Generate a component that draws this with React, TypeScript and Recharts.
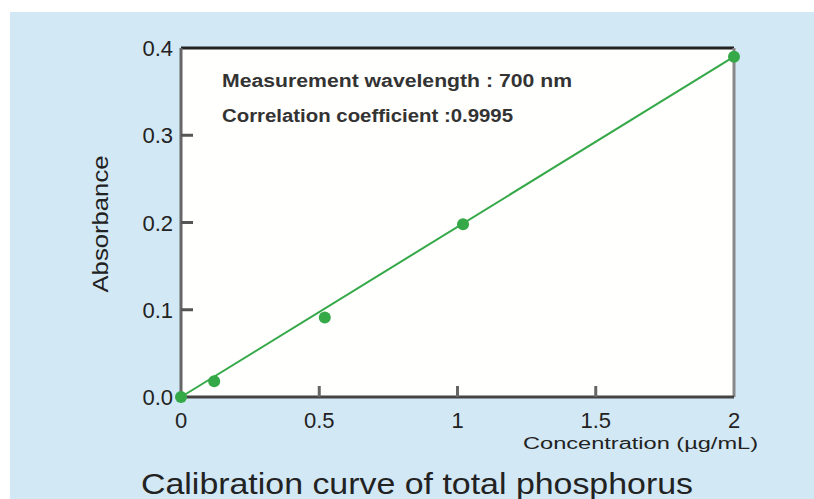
import React from 'react'
import {
  ComposedChart,
  Scatter,
  Line,
  XAxis,
  YAxis,
  CartesianGrid,
  ReferenceLine,
  Customized,
} from 'recharts'

// values
const concentration = [0, 0.12, 0.52, 1.02, 2]
const absorbance = [0, 0.018, 0.091, 0.198, 0.39]
const fitX = [0, 2]
const fitY = [0, 0.39]
const xTicks = [0, 0.5, 1, 1.5, 2]
const yTicks = [0, 0.1, 0.2, 0.3, 0.4]

const points = concentration.map((c, i) => ({ x: c, y: absorbance[i] }))
const fitLine = fitX.map((c, i) => ({ x: c, fit: fitY[i] }))

const GREEN = '#35a848'
const FONT = '"Liberation Sans", Arial, sans-serif'

const XTick = (props: any) => {
  const { x, y, payload } = props
  const v = payload.value
  const inner = v !== xTicks[0] && v !== xTicks[xTicks.length - 1]
  return (
    <g>
      {inner && <line x1={x} x2={x} y1={y} y2={y - 11} stroke="#666" strokeWidth={3} />}
      <text x={x} y={y + 31} textAnchor="middle" fontSize={22} fill="#222" fontFamily={FONT}>
        {String(v)}
      </text>
    </g>
  )
}

const YTick = (props: any) => {
  const { x, y, payload } = props
  const v = payload.value
  const inner = v !== yTicks[0] && v !== yTicks[yTicks.length - 1]
  return (
    <g>
      {inner && <line x1={x} x2={x + 12} y1={y} y2={y} stroke="#555" strokeWidth={3} />}
      <text x={x - 8} y={y + 8} textAnchor="end" fontSize={22} fill="#222" fontFamily={FONT}>
        {v.toFixed(1)}
      </text>
    </g>
  )
}

const Dot = (props: any) => {
  const { cx, cy } = props
  return <circle cx={cx} cy={cy} r={6} fill={GREEN} />
}

const Texts = () => (
  <g fontFamily={FONT}>
    <text x={222} y={87} fontSize={18} fontWeight="bold" fill="#333" textLength={350} lengthAdjust="spacingAndGlyphs">
      Measurement wavelength : 700 nm
    </text>
    <text x={222} y={122} fontSize={18} fontWeight="bold" fill="#333" textLength={291} lengthAdjust="spacingAndGlyphs">
      Correlation coefficient :0.9995
    </text>
    <text
      x={108}
      y={224}
      fontSize={22}
      fill="#222"
      textAnchor="middle"
      transform="rotate(-90, 108, 224)"
      textLength={137}
      lengthAdjust="spacingAndGlyphs"
    >
      Absorbance
    </text>
    <text x={523} y={449} fontSize={16} fill="#222" textLength={235} lengthAdjust="spacingAndGlyphs">
      Concentration (µg/mL)
    </text>
    <text x={141} y={494} fontSize={29} fill="#222" textLength={552} lengthAdjust="spacingAndGlyphs">
      Calibration curve of total phosphorus
    </text>
  </g>
)

export default function App() {
  return (
    <div style={{ position: 'absolute', left: 0, top: 0, width: 814, height: 499, background: '#fff' }}>
      <div style={{ position: 'absolute', left: 10, top: 12, right: 0, bottom: 0, background: '#d2e8f4' }} />
      <ComposedChart
        width={814}
        height={499}
        margin={{ top: 48, right: 80, bottom: 0, left: 0 }}
        style={{ position: 'absolute', left: 0, top: 0 }}
      >
        <CartesianGrid fill="#fffffd" horizontal={false} vertical={false} />
        <XAxis
          dataKey="x"
          type="number"
          domain={[0, 2]}
          ticks={xTicks}
          height={102}
          tickSize={0}
          tickMargin={0}
          tickLine={false}
          tick={<XTick />}
          axisLine={{ stroke: '#444', strokeWidth: 3 }}
        />
        <YAxis
          type="number"
          domain={[0, 0.4]}
          ticks={yTicks}
          width={181}
          tickSize={0}
          tickMargin={0}
          tickLine={false}
          tick={<YTick />}
          axisLine={{ stroke: '#666', strokeWidth: 3 }}
        />
        <ReferenceLine y={0.4} stroke="#222" strokeWidth={3} />
        <ReferenceLine x={2} stroke="#888" strokeWidth={3} />
        <Line
          data={fitLine}
          dataKey="fit"
          stroke={GREEN}
          strokeWidth={2}
          dot={false}
          activeDot={false}
          isAnimationActive={false}
        />
        <Scatter data={points} dataKey="y" shape={<Dot />} isAnimationActive={false} />
        <Customized component={Texts} />
      </ComposedChart>
    </div>
  )
}
